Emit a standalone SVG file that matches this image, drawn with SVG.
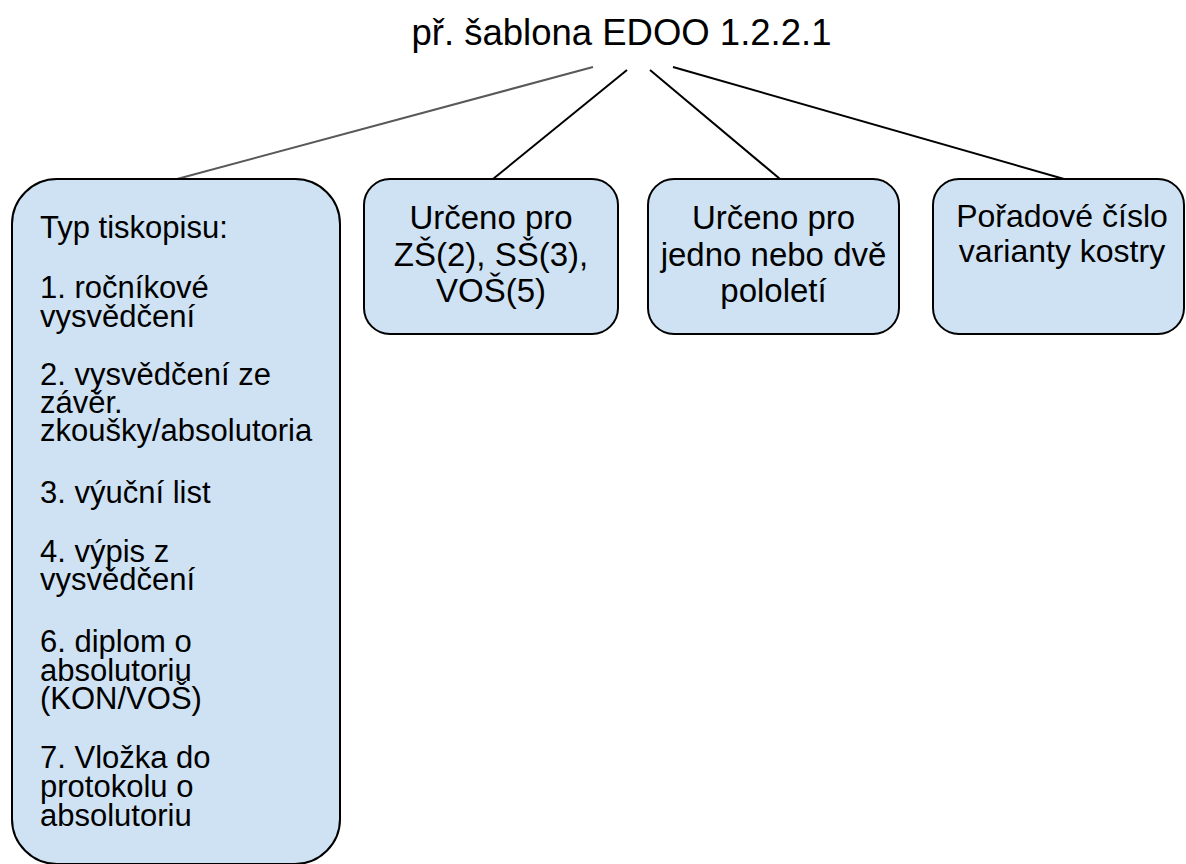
<svg xmlns="http://www.w3.org/2000/svg" width="1186" height="864" viewBox="0 0 1186 864">
<style>
.box{fill:#cfe2f3;stroke:#000;stroke-width:2}
.t{font-family:"Liberation Sans",Arial,sans-serif;fill:#000}
.l{font-size:31px}
.c{font-size:33px;text-anchor:middle}
.conn{stroke:#000;stroke-width:2;fill:none}
</style>
<rect width="1186" height="864" fill="#fff"/>
<g id="title">
<text class="t" x="621.5" y="45" font-size="36.5" text-anchor="middle">př. šablona EDOO 1.2.2.1</text>
</g>
<g id="connectors">
<line class="conn" x1="593" y1="67" x2="177" y2="179" stroke="#595959" style="stroke:#595959"/>
<line class="conn" x1="627" y1="70" x2="493" y2="179"/>
<line class="conn" x1="650" y1="70" x2="780" y2="179"/>
<line class="conn" x1="673" y1="67" x2="1064" y2="179"/>
</g>
<g id="node-typ">
<rect class="box" x="12" y="179" width="328" height="685" rx="45" ry="45"/>
<text class="t l" x="40" y="238">Typ tiskopisu:</text>
<text class="t l" x="40" y="298">1. ročníkové</text>
<text class="t l" x="40" y="327">vysvědčení</text>
<text class="t l" x="40" y="385">2. vysvědčení ze</text>
<text class="t l" x="40" y="413">závěr.</text>
<text class="t l" x="40" y="441">zkoušky/absolutoria</text>
<text class="t l" x="40" y="503">3. výuční list</text>
<text class="t l" x="40" y="562">4. výpis z</text>
<text class="t l" x="40" y="590">vysvědčení</text>
<text class="t l" x="40" y="652">6. diplom o</text>
<text class="t l" x="40" y="681">absolutoriu</text>
<text class="t l" x="40" y="709">(KON/VOŠ)</text>
<text class="t l" x="40" y="768">7. Vložka do</text>
<text class="t l" x="40" y="797">protokolu o</text>
<text class="t l" x="40" y="826">absolutoriu</text>
</g>
<g id="node-urceno-skoly">
<rect class="box" x="364" y="179" width="254" height="155" rx="26" ry="26"/>
<text class="t c" x="491" y="229">Určeno pro</text>
<text class="t c" x="491" y="266">ZŠ(2), SŠ(3),</text>
<text class="t c" x="491" y="302">VOŠ(5)</text>
</g>
<g id="node-urceno-pololeti">
<rect class="box" x="648" y="179" width="251" height="155" rx="26" ry="26"/>
<text class="t c" x="773.5" y="229">Určeno pro</text>
<text class="t c" x="773.5" y="266">jedno nebo dvě</text>
<text class="t c" x="773.5" y="302">pololetí</text>
</g>
<g id="node-poradove">
<rect class="box" x="933" y="179" width="251" height="155" rx="26" ry="26"/>
<text class="t c" x="1062" y="227" font-size="32" style="font-size:32px">Pořadové číslo</text>
<text class="t c" x="1062" y="262" style="font-size:32px">varianty kostry</text>
</g>
</svg>
